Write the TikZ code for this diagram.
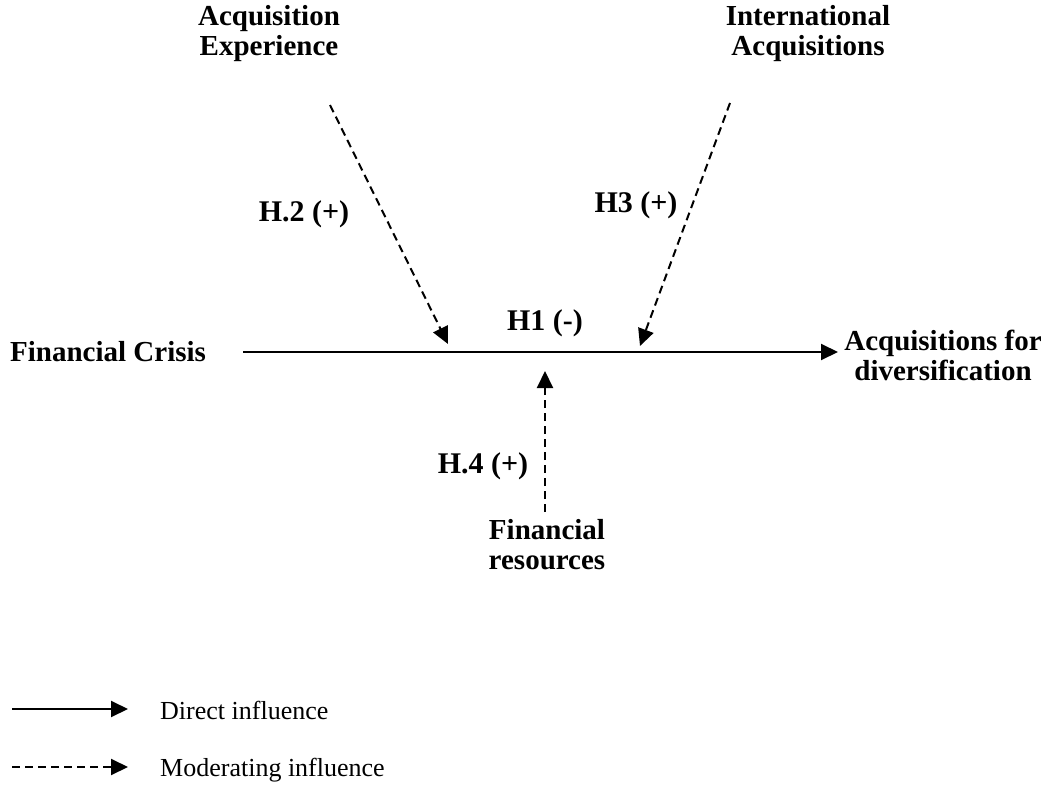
\documentclass[tikz,border=0pt]{standalone}
\usepackage{fontspec}
\setmainfont{Liberation Serif}
\usetikzlibrary{arrows.meta}
\begin{document}
\begin{tikzpicture}[x=1pt,y=-1pt,
  lbl/.style={font=\fontsize{29}{30}\selectfont\bfseries, align=center, inner sep=0pt},
  hyp/.style={font=\fontsize{30}{30}\selectfont\bfseries, inner sep=0pt},
  leg/.style={font=\fontsize{26}{28}\selectfont, anchor=west, inner sep=0pt},
  direct/.style={line width=2pt, -{Triangle[length=17pt,width=16pt]}},
  moder/.style={line width=2pt, dash pattern=on 8pt off 5pt, -{Triangle[length=17pt,width=16pt]}}]
\useasboundingbox (0,0) rectangle (1058,789);

\node[lbl] (ae) at (269,34) {Acquisition\\Experience};
\node[lbl] (ia) at (808,34) {International\\Acquisitions};
\node[lbl, anchor=west] (fc) at (10,352) {Financial Crisis};
\node[lbl] (ad) at (943,355) {Acquisitions for\\diversification};
\node[lbl] (fr) at (547,545) {Financial\\resources};

\coordinate (s) at (243,352);
\coordinate (e) at (838,352);
\coordinate (aes) at (330,105);
\coordinate (aee) at (448,344);
\coordinate (ias) at (730,103);
\coordinate (iae) at (640,346);
\coordinate (frs) at (545,512);
\coordinate (fre) at (545,371);

\draw[direct] (s) -- (e);
\draw[moder] (aes) -- (aee);
\draw[moder] (ias) -- (iae);
\draw[moder] (frs) -- (fre);

\node[hyp] (h1) at (545,323) {H1 (-)};
\node[hyp] (h2) at (304,214) {H.2 (+)};
\node[hyp] (h3) at (636,205) {H3 (+)};
\node[hyp] (h4) at (483,466) {H.4 (+)};

\coordinate (l1s) at (12,709);
\coordinate (l1e) at (128,709);
\coordinate (l2s) at (12,767);
\coordinate (l2e) at (128,767);
\draw[direct] (l1s) -- (l1e);
\draw[moder] (l2s) -- (l2e);
\node[leg] (t1) at (160,710) {Direct influence};
\node[leg] (t2) at (160,770) {Moderating influence};
\end{tikzpicture}
\end{document}
